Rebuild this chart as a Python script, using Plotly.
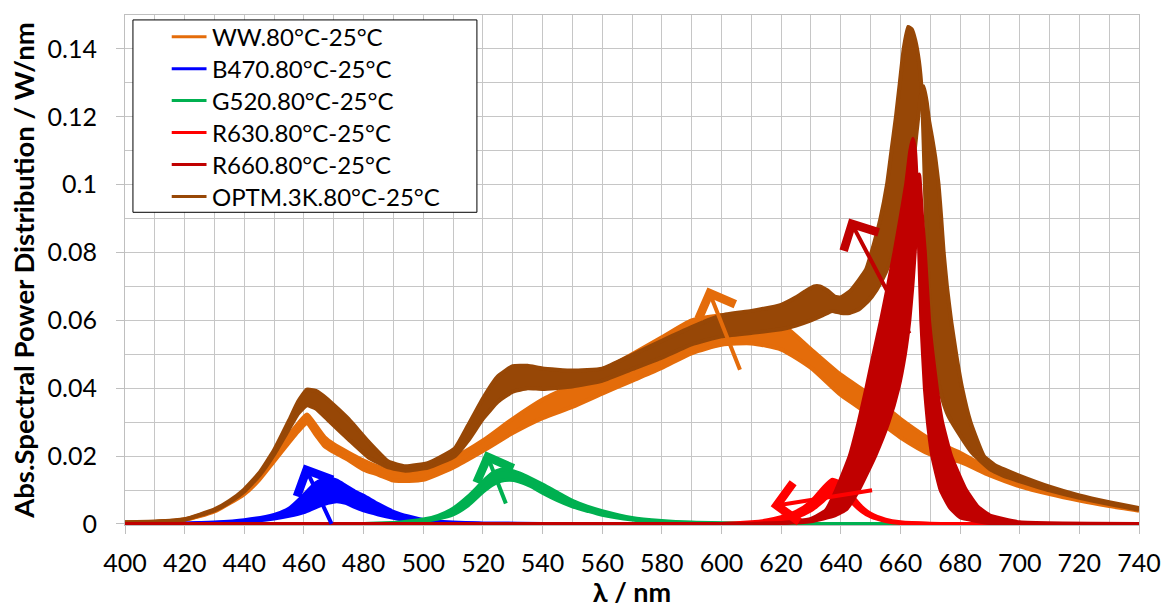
import plotly.graph_objects as go

# ------------------------------------------------------------------ data
SERIES = ["WW.80°C-25°C", "B470.80°C-25°C", "G520.80°C-25°C",
          "R630.80°C-25°C", "R660.80°C-25°C", "OPTM.3K.80°C-25°C"]
COLORS = ["#E46C0A", "#0000FF", "#00B050", "#FF0000", "#C00000", "#974706"]

X_TICKS = list(range(400, 741, 20))
Y_TICKS = [0, 0.02, 0.04, 0.06, 0.08, 0.1, 0.12, 0.14]
Y_TICK_TEXT = ["0", "0.02", "0.04", "0.06", "0.08", "0.1", "0.12", "0.14"]

# WW (warm white) envelope of the temperature bundle
WW_NM = [400, 410, 420, 430, 440, 445, 450, 455, 458, 461, 464, 467, 470, 475, 480,
         485, 490, 495, 500, 510, 520, 530, 540, 550, 560, 570, 580, 590, 600, 610,
         620, 630, 640, 650, 660, 670, 680, 690, 700, 710, 720, 730, 740]
WW_HI = [0.0004, 0.0006, 0.0013, 0.0040, 0.0095, 0.0140, 0.0198, 0.0262, 0.0295, 0.0323,
         0.0290, 0.0255, 0.0235, 0.0210, 0.0187, 0.0168, 0.0153, 0.0152, 0.0155, 0.0194,
         0.0246, 0.0310, 0.0367, 0.0410, 0.0452, 0.0500, 0.0550, 0.0600, 0.0615, 0.0618,
         0.0590, 0.0515, 0.0440, 0.0380, 0.0310, 0.0250, 0.0210, 0.0162, 0.0123, 0.0097,
         0.0076, 0.0059, 0.0044]
WW_LO = [0.0003, 0.0005, 0.0012, 0.0037, 0.0088, 0.0130, 0.0185, 0.0240, 0.0272, 0.0297,
         0.0262, 0.0228, 0.0212, 0.0188, 0.0160, 0.0145, 0.0128, 0.0127, 0.0130, 0.0166,
         0.0215, 0.0268, 0.0312, 0.0345, 0.0384, 0.0422, 0.0460, 0.0503, 0.0528, 0.0532,
         0.0514, 0.0460, 0.0380, 0.0320, 0.0255, 0.0205, 0.0183, 0.0143, 0.0111, 0.0088,
         0.0069, 0.0053, 0.0039]

# B470
B470_NM = [400, 420, 430, 440, 450, 455, 460, 464, 468, 471, 474, 477, 480, 485, 490,
           495, 500, 510, 520, 540, 740]
B470_HI = [0, 0.0001, 0.0004, 0.0011, 0.0027, 0.0045, 0.0085, 0.0120, 0.0135, 0.0128,
           0.0112, 0.0096, 0.0083, 0.0058, 0.0036, 0.0022, 0.0012, 0.0004, 0.0001, 0, 0]
B470_LO = [0, 0.0001, 0.0003, 0.0007, 0.0016, 0.0024, 0.0035, 0.0050, 0.0062, 0.0067,
           0.0062, 0.0050, 0.0040, 0.0028, 0.0018, 0.0010, 0.0006, 0.0002, 0.0001, 0, 0]

# G520
G520_NM = [400, 480, 490, 500, 505, 510, 515, 520, 523, 526, 529, 532, 536, 540, 545,
           550, 555, 560, 570, 580, 590, 600, 620, 740]
G520_HI = [0, 0, 0.0003, 0.0013, 0.0024, 0.0045, 0.0080, 0.0124, 0.0148, 0.0160, 0.0158,
           0.0150, 0.0134, 0.0116, 0.0092, 0.0068, 0.0051, 0.0038, 0.0018, 0.0009, 0.0004,
           0.0002, 0, 0]
G520_LO = [0, 0, 0.0002, 0.0009, 0.0016, 0.0028, 0.0055, 0.0095, 0.0115, 0.0127, 0.0130,
           0.0126, 0.0112, 0.0092, 0.0070, 0.0052, 0.0039, 0.0027, 0.0013, 0.0006, 0.0003,
           0.0001, 0, 0]

# R630
R630_NM = [400, 600, 610, 615, 620, 625, 630, 634, 637, 639, 641, 644, 647, 650, 655,
           660, 670, 740]
R630_HI = [0, 0, 0.0005, 0.0010, 0.0020, 0.0036, 0.0065, 0.0105, 0.0130, 0.0125, 0.0098,
           0.0062, 0.0038, 0.0022, 0.0009, 0.0003, 0, 0]
R630_LO = [0, 0, 0.0002, 0.0005, 0.0010, 0.0020, 0.0040, 0.0068, 0.0092, 0.0105, 0.0110,
           0.0080, 0.0050, 0.0030, 0.0013, 0.0005, 0.0001, 0]

# R660 : left (tall) and right (shifted) envelope curves
R660_L_NM = [400, 600, 620, 630, 635, 638.5, 643, 646, 648.6, 651, 653.5, 655.8, 658, 660,
             661.9, 663.3, 664.2, 664.9, 665.5, 666.3, 667.0, 668.2, 669.2, 670.7, 673.5,
             676.5, 680, 690, 740]
R660_L = [0, 0, 0.0003, 0.0015, 0.0040, 0.0100, 0.0200, 0.0300, 0.0400, 0.0500, 0.0600,
          0.0700, 0.0800, 0.0900, 0.1000, 0.1100, 0.1135, 0.1100, 0.1000, 0.0800, 0.0600,
          0.0400, 0.0300, 0.0200, 0.0100, 0.0050, 0.0020, 0.0003, 0]
R660_R_NM = [400, 610, 630, 638, 642, 646, 651.5, 656, 659.3, 661.5, 663.0, 664.0, 664.8,
             665.5, 666.3, 667.3, 668.2, 669.6, 670.8, 672.2, 674.0, 677.0, 682.0, 686.0,
             690, 700, 740]
R660_R = [0, 0, 0.0008, 0.0025, 0.0045, 0.0100, 0.0200, 0.0300, 0.0400, 0.0500, 0.0600,
          0.0700, 0.0800, 0.0900, 0.1030, 0.0900, 0.0800, 0.0600, 0.0500, 0.0400, 0.0300,
          0.0200, 0.0100, 0.0050, 0.0025, 0.0005, 0]

# OPTM.3K
OPTM_HI_NM = [400, 410, 420, 430, 435, 440, 445, 450, 455, 458, 461, 464, 468, 475, 481.7,
              488.3, 494, 501.7, 510.6, 515, 520, 525, 530, 535, 540, 550, 560, 570, 580,
              590, 600, 610, 620, 625, 628, 631, 633, 635.5, 638, 640, 643, 646, 648.5,
              650.3, 653.3, 655.5, 657, 658.5, 659.8, 661.1, 662.6, 663.8, 665, 666.2,
              667.2, 667.8, 668.4, 669.0, 669.8, 670.8, 672, 674, 676, 679, 684, 690, 695,
              700, 710, 720, 730, 740]
OPTM_HI = [0.0005, 0.0007, 0.0014, 0.0043, 0.0068, 0.0102, 0.0150, 0.0218, 0.0305, 0.0360,
           0.0396, 0.0392, 0.0367, 0.0309, 0.0242, 0.0184, 0.0170, 0.0180, 0.0223, 0.0290,
           0.0370, 0.0435, 0.0465, 0.0466, 0.0458, 0.0452, 0.0458, 0.0498, 0.0540, 0.0580,
           0.0615, 0.0628, 0.0646, 0.0668, 0.0685, 0.0700, 0.0700, 0.0688, 0.0670, 0.0668,
           0.0685, 0.0718, 0.0750, 0.0800, 0.0900, 0.1000, 0.1100, 0.1200, 0.1300, 0.1400,
           0.1465, 0.1458, 0.1425, 0.1365, 0.1270, 0.1120, 0.0940, 0.0790, 0.0660, 0.0550,
           0.0450, 0.0370, 0.0320, 0.0275, 0.0210, 0.0162, 0.0140, 0.0126, 0.0099, 0.0077,
           0.0059, 0.0042]
OPTM_LO_NM = [400, 410, 420, 430, 435, 440, 445, 450, 455, 458, 461, 464, 468, 475, 481.7,
              488.3, 494, 501.7, 510.6, 515, 520, 525, 530, 535, 540, 550, 560, 570, 580,
              590, 600, 610, 620, 625, 630, 634, 637, 640, 643, 646, 649, 652, 655, 658,
              661, 664, 665.5, 666.8, 667.8, 668.8, 669.6, 670.6, 671.7, 672.8, 673.7,
              674.5, 675.6, 677, 678.7, 680.7, 683.5, 688, 692, 695, 700, 710, 720, 730, 740]
OPTM_LO = [0.0004, 0.0006, 0.0013, 0.0040, 0.0064, 0.0096, 0.0142, 0.0205, 0.0280, 0.0325,
           0.0350, 0.0340, 0.0307, 0.0249, 0.0196, 0.0167, 0.0157, 0.0166, 0.0200, 0.0245,
           0.0310, 0.0360, 0.0390, 0.0400, 0.0398, 0.0405, 0.0422, 0.0456, 0.0490, 0.0529,
           0.0553, 0.0563, 0.0574, 0.0585, 0.0600, 0.0615, 0.0628, 0.0622, 0.0622, 0.0632,
           0.0655, 0.0690, 0.0740, 0.0810, 0.0900, 0.1040, 0.1160, 0.1260, 0.1290, 0.1245,
           0.1190, 0.1140, 0.1080, 0.1000, 0.0900, 0.0800, 0.0700, 0.0600, 0.0500, 0.0400,
           0.0300, 0.0200, 0.0172, 0.0160, 0.0142, 0.0110, 0.0084, 0.0064, 0.0047]

# trend arrows (tail -> head), one per LED series
ARROW_SERIES = [0, 1, 2, 3, 4]
ARROW_TAIL_X = [606.4, 469.5, 527.9, 651.0, 663.3]
ARROW_TAIL_Y = [0.045, -0.0004, 0.0056, 0.0100, 0.0557]
ARROW_HEAD_X = [595.3, 460.0, 520.9, 616.5, 642.8]
ARROW_HEAD_Y = [0.0697, 0.0175, 0.0214, 0.0052, 0.0900]

# ------------------------------------------------------------------ figure
FONT = "Lato, 'Open Sans', sans-serif"
LW = 4
fig = go.Figure()


def band(nm_lo, lo, nm_hi, hi, idx, smooth=0.6):
    col = COLORS[idx]
    fig.add_trace(go.Scatter(
        x=nm_lo, y=lo, mode="lines", name=SERIES[idx] + " (80°C)",
        line=dict(color=col, width=LW, shape="spline", smoothing=smooth),
        showlegend=False, hoverinfo="x+y+name"))
    fig.add_trace(go.Scatter(
        x=nm_hi, y=hi, mode="lines", name=SERIES[idx] + " (25°C)",
        line=dict(color=col, width=LW, shape="spline", smoothing=smooth),
        fill="tonexty", fillcolor=col, showlegend=False, hoverinfo="x+y+name"))


band(WW_NM, WW_LO, WW_NM, WW_HI, 0)
band(B470_NM, B470_LO, B470_NM, B470_HI, 1)
band(G520_NM, G520_LO, G520_NM, G520_HI, 2)
band(R630_NM, R630_LO, R630_NM, R630_HI, 3)
band(OPTM_LO_NM, OPTM_LO, OPTM_HI_NM, OPTM_HI, 5, 0.4)
band(R660_R_NM, R660_R, R660_L_NM, R660_L, 4, 0.4)

# arrows
for s, tx, ty, hx, hy in zip(ARROW_SERIES, ARROW_TAIL_X, ARROW_TAIL_Y,
                             ARROW_HEAD_X, ARROW_HEAD_Y):
    fig.add_annotation(x=hx, y=hy, ax=tx, ay=ty, xref="x", yref="y", axref="x", ayref="y",
                       text="", showarrow=True, arrowhead=4, arrowsize=1.9,
                       arrowwidth=4, arrowcolor=COLORS[s])

# legend (drawn box, samples and labels)
L, T, PW, PH = 125, 15, 1020, 517


def px_x(p):
    return (p - L) / PW


def px_y(p):
    return (T + PH - p) / PH


fig.add_shape(type="rect", xref="paper", yref="paper",
              x0=px_x(133), x1=px_x(479), y0=px_y(215), y1=px_y(20),
              line=dict(color="black", width=1), fillcolor="white", layer="above")
for i, name in enumerate(SERIES):
    ry = px_y(37 + i * 32.4)
    fig.add_shape(type="line", xref="paper", yref="paper",
                  x0=px_x(172), x1=px_x(207), y0=ry, y1=ry,
                  line=dict(color=COLORS[i], width=3), layer="above")
    fig.add_annotation(x=px_x(210), y=ry, xref="paper", yref="paper", text=name,
                       showarrow=False, xanchor="left", yanchor="middle",
                       font=dict(family=FONT, size=24, color="#000000"))

grid = "#C6C6C6"
fig.update_layout(
    width=1173, height=608,
    margin=dict(l=L, r=28, t=T, b=608 - T - PH, pad=0),
    paper_bgcolor="white", plot_bgcolor="white",
    font=dict(family=FONT, size=25, color="#000000"),
    showlegend=False,
    xaxis=dict(range=[400, 740], tickvals=X_TICKS, ticks="outside", ticklen=8,
               tickcolor="#BFBFBF", showline=True, linecolor="#BFBFBF", mirror=True,
               showgrid=True, gridcolor=grid, zeroline=False, ticklabelstandoff=8,
               minor=dict(dtick=10, tick0=400, showgrid=True, gridcolor=grid),
               title=dict(text="<b>λ / nm</b>", font=dict(family=FONT, size=27),
                          standoff=0)),
    yaxis=dict(range=[-0.0003, 0.15], tickvals=Y_TICKS, ticktext=Y_TICK_TEXT,
               ticks="outside", ticklen=8, tickcolor="#BFBFBF", showline=True,
               linecolor="#BFBFBF", mirror=True, showgrid=True, gridcolor=grid,
               zeroline=False, ticklabelstandoff=14,
               minor=dict(dtick=0.01, tick0=0, showgrid=True, gridcolor=grid),
               title=dict(text="<b>Abs.Spectral Power Distribution / W/nm</b>",
                          font=dict(family=FONT, size=27.5), standoff=4)),
)

fig.write_html("out.html")
